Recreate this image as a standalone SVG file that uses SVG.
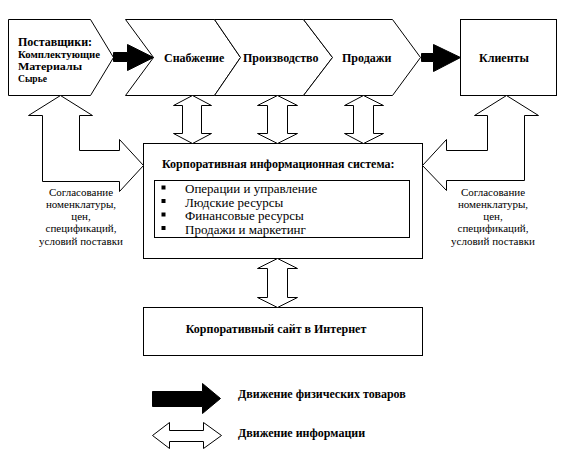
<svg xmlns="http://www.w3.org/2000/svg" width="561" height="450" viewBox="0 0 561 450">
<style>
.shape{fill:#fff;stroke:#000;stroke-width:1}
.solid{fill:#000;stroke:#000;stroke-width:1}
text{font-family:"Liberation Serif","DejaVu Serif",serif;fill:#000}
.b{font-weight:bold;font-size:12px}
.bs{font-weight:bold;font-size:11px}
.r{font-size:13px}
.rs{font-size:11px}
</style>
<rect width="561" height="450" fill="#fff"/>

<g id="suppliers">
<polygon class="shape" points="8.5,19.5 90.5,19.5 113.5,57.5 90.5,95.5 8.5,95.5"/>
<text class="b" x="18" y="46">Поставщики:</text>
<text class="bs" x="18" y="58" textLength="82" lengthAdjust="spacingAndGlyphs">Комплектующие</text>
<text class="bs" x="18" y="70" textLength="64" lengthAdjust="spacingAndGlyphs">Материалы</text>
<text class="bs" x="18" y="82" textLength="29" lengthAdjust="spacingAndGlyphs">Сырье</text>
</g>

<g id="supply">
<polygon class="shape" points="125.5,19.5 214.5,19.5 240.5,57.5 214.5,95.5 125.5,95.5 153.5,57.5"/>
<text class="b" x="164" y="62">Снабжение</text>
</g>

<g id="production">
<polygon class="shape" points="214.5,19.5 303.5,19.5 332.5,57.5 303.5,95.5 214.5,95.5 240.5,57.5"/>
<text class="b" x="243" y="62">Производство</text>
</g>

<g id="sales">
<polygon class="shape" points="303.5,19.5 392.5,19.5 420.5,57.5 392.5,95.5 303.5,95.5 332.5,57.5"/>
<text class="b" x="342" y="62">Продажи</text>
</g>

<g id="clients">
<rect class="shape" x="460.5" y="19.5" width="96" height="76"/>
<text class="b" x="479" y="62">Клиенты</text>
</g>

<g id="cis">
<rect class="shape" x="143.5" y="143.5" width="279" height="115"/>
<text class="b" x="162" y="168">Корпоративная информационная система:</text>
<rect class="shape" x="154.5" y="180.5" width="255" height="57"/>
<rect class="solid" x="162" y="186" width="3" height="3"/>
<rect class="solid" x="162" y="199.5" width="3" height="3"/>
<rect class="solid" x="162" y="213" width="3" height="3"/>
<rect class="solid" x="162" y="226.5" width="3" height="3"/>
<text class="r" x="185" y="193">Операции и управление</text>
<text class="r" x="185" y="206.5">Людские ресурсы</text>
<text class="r" x="185" y="220">Финансовые ресурсы</text>
<text class="r" x="185" y="233.5">Продажи и маркетинг</text>
</g>

<g id="website">
<rect class="shape" x="143.5" y="307.5" width="279" height="48"/>
<text class="b" x="276" y="333" text-anchor="middle">Корпоративный сайт в Интернет</text>
</g>

<g id="note-left">
<text class="rs" x="81" y="196" text-anchor="middle">Согласование</text>
<text class="rs" x="81" y="208" text-anchor="middle">номенклатуры,</text>
<text class="rs" x="81" y="220" text-anchor="middle">цен,</text>
<text class="rs" x="81" y="232" text-anchor="middle">спецификаций,</text>
<text class="rs" x="81" y="245" text-anchor="middle">условий поставки</text>
</g>

<g id="note-right">
<text class="rs" x="493" y="196" text-anchor="middle">Согласование</text>
<text class="rs" x="493" y="208" text-anchor="middle">номенклатуры,</text>
<text class="rs" x="493" y="220" text-anchor="middle">цен,</text>
<text class="rs" x="493" y="232" text-anchor="middle">спецификаций,</text>
<text class="rs" x="493" y="245" text-anchor="middle">условий поставки</text>
</g>

<g id="connectors">
<polygon class="solid" points="113.5,52.5 127.5,52.5 127.5,44.5 153.5,57.5 127.5,70.5 127.5,61.5 113.5,61.5"/>
<polygon class="solid" points="421.5,53.5 433.5,53.5 433.5,44.5 460.5,57.5 433.5,71.5 433.5,61.5 421.5,61.5"/>
<polygon class="shape" points="60.5,95.5 92.5,115.5 79.5,115.5 79.5,150.5 119.5,150.5 119.5,139.5 143.5,165.5 119.5,191.5 119.5,181.5 42.5,181.5 42.5,115.5 28.5,115.5"/>
<polygon class="shape" points="506.5,95.5 538.5,115.5 524.5,115.5 524.5,180.5 446.5,180.5 446.5,190.5 422.5,165.5 446.5,139.5 446.5,150.5 487.5,150.5 487.5,115.5 474.5,115.5"/>
<polygon class="shape" points="192.5,95.5 211.5,105.5 201.5,105.5 201.5,133.5 211.5,133.5 192.5,143.5 173.5,133.5 182.5,133.5 182.5,105.5 173.5,105.5"/>
<polygon class="shape" points="277.5,95.5 297.5,105.5 287.5,105.5 287.5,133.5 297.5,133.5 277.5,143.5 257.5,133.5 267.5,133.5 267.5,105.5 257.5,105.5"/>
<polygon class="shape" points="363.5,95.5 383.5,105.5 373.5,105.5 373.5,133.5 383.5,133.5 363.5,143.5 344.5,133.5 353.5,133.5 353.5,105.5 344.5,105.5"/>
<polygon class="shape" points="277.5,258.5 297.5,268.5 287.5,268.5 287.5,297.5 297.5,297.5 277.5,307.5 257.5,297.5 267.5,297.5 267.5,268.5 257.5,268.5"/>
</g>

<g id="legend">
<polygon class="solid" points="152.5,391.5 202.5,391.5 202.5,383.5 220.5,398.5 202.5,413.5 202.5,406.5 152.5,406.5"/>
<text class="b" x="238" y="398">Движение физических товаров</text>
<polygon class="shape" points="152.5,435.5 169.5,422.5 169.5,430.5 203.5,430.5 203.5,422.5 221.5,435.5 203.5,448.5 203.5,441.5 169.5,441.5 169.5,448.5"/>
<text class="b" x="238" y="437">Движение информации</text>
</g>
</svg>
